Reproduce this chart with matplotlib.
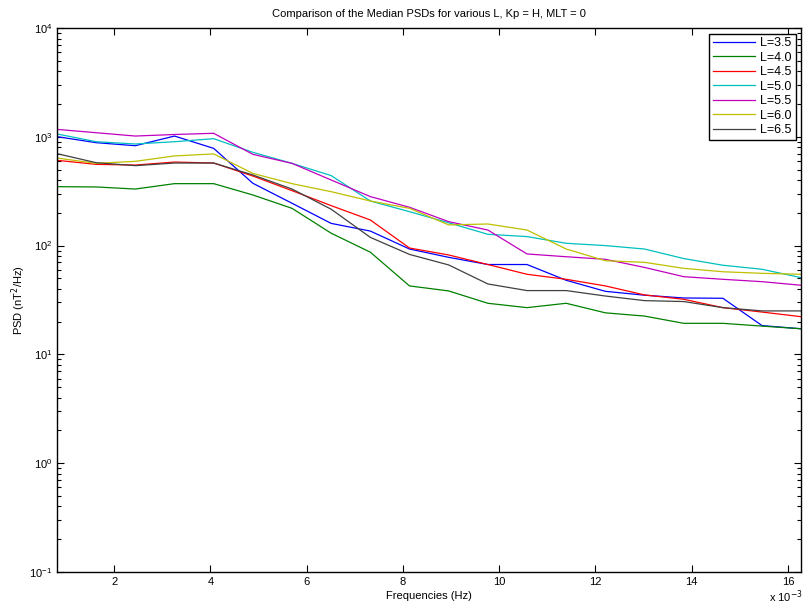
import numpy as np
import matplotlib
matplotlib.use("Agg")
import matplotlib.pyplot as plt
from matplotlib.ticker import LogLocator, FixedLocator, FuncFormatter, NullFormatter

plt.rcParams['font.family'] = ['Liberation Sans', 'DejaVu Sans']

# Frequency bins (Hz)
freqs = [0.000814, 0.001628, 0.002441, 0.003255, 0.004069, 0.004883, 0.005697,
         0.006510, 0.007324, 0.008138, 0.008952, 0.009766, 0.010579, 0.011393,
         0.012207, 0.013021, 0.013835, 0.014648, 0.015462, 0.016276]

# Median PSD (nT^2/Hz) for each L shell
psd_L35 = [1003, 883, 828, 1016, 783, 374, 245, 160, 136, 93, 78, 67, 67, 48,
           38, 35, 33, 32.8, 18.4, 17.2]
psd_L40 = [348, 346, 331, 371, 371, 292, 220, 130, 87, 42.6, 38.3, 29.5, 26.9,
           29.5, 24.1, 22.5, 19.3, 19.3, 18.2, 17.2]
psd_L45 = [608, 558, 550, 586, 574, 436, 320, 233, 172, 95, 82, 67, 54.5, 49,
           42.6, 35.2, 32.1, 26.9, 24.5, 22.2]
psd_L50 = [1062, 901, 859, 901, 961, 720, 570, 440, 257, 205, 162, 127, 121,
           105, 100, 93, 76, 66, 60.6, 50.7]
psd_L55 = [1170, 1090, 1016, 1050, 1077, 690, 570, 401, 282, 225, 166, 139,
           83.8, 79, 74.8, 63, 51.8, 49, 46.6, 43.2]
psd_L60 = [638, 570, 595, 667, 696, 461, 371, 313, 257, 220, 155, 158, 139,
           93, 72.6, 70.2, 61.8, 57.5, 55.6, 54.5]
psd_L65 = [700, 578, 543, 574, 574, 446, 331, 216, 119, 83, 66.4, 44.4, 38.6,
           38.6, 34.4, 31.2, 30.6, 26.9, 25.1, 25.1]

labels = ['L=3.5', 'L=4.0', 'L=4.5', 'L=5.0', 'L=5.5', 'L=6.0', 'L=6.5']
series = [psd_L35, psd_L40, psd_L45, psd_L50, psd_L55, psd_L60, psd_L65]
colors = [(0, 0, 1), (0, 0.5, 0), (1, 0, 0), (0, 0.75, 0.75),
          (0.75, 0, 0.75), (0.75, 0.75, 0), (0.25, 0.25, 0.25)]

xticks = [0.002, 0.004, 0.006, 0.008, 0.010, 0.012, 0.014, 0.016]

fig = plt.figure(figsize=(8.05, 6.10), dpi=100)
ax = fig.add_axes([0.0708, 0.0623, 0.9245, 0.8918])

for y, lab, c in zip(series, labels, colors):
    ax.plot(freqs, y, color=c, lw=0.9, label=lab)

ax.set_yscale('log')
ax.set_ylim(1e-1, 1e4)
ax.set_xlim(freqs[0], freqs[-1])

ax.xaxis.set_major_locator(FixedLocator(xticks))
ax.xaxis.set_major_formatter(FuncFormatter(lambda v, p: f"{v * 1e3:.0f}"))
ax.yaxis.set_major_locator(LogLocator(base=10, numticks=10))
ax.yaxis.set_minor_locator(LogLocator(base=10, subs=np.arange(2, 10), numticks=20))
ax.yaxis.set_minor_formatter(NullFormatter())

ax.tick_params(which='both', direction='in', top=True, right=True,
               labelsize=8, width=0.8)
ax.tick_params(which='major', length=5)
ax.tick_params(which='minor', length=3)
for s in ax.spines.values():
    s.set_linewidth(1.0)

ax.set_title('Comparison of the Median PSDs for various L, Kp = H, MLT = 0',
             fontsize=8, pad=8)
ax.set_xlabel('Frequencies (Hz)', fontsize=8, labelpad=3)
ax.set_ylabel('PSD (nT$^2$/Hz)', fontsize=8, labelpad=1)
fig.text(0.955, 0.008, r'x 10$^{-3}$', fontsize=8, ha='left', va='bottom')

leg = ax.legend(loc='upper right', fontsize=9, fancybox=False, framealpha=1,
                edgecolor='black', handlelength=3.4, borderaxespad=0.45,
                labelspacing=0.2, handletextpad=0.4, borderpad=0.3)
leg.get_frame().set_linewidth(1.0)

fig.savefig('out.png', dpi=100)
